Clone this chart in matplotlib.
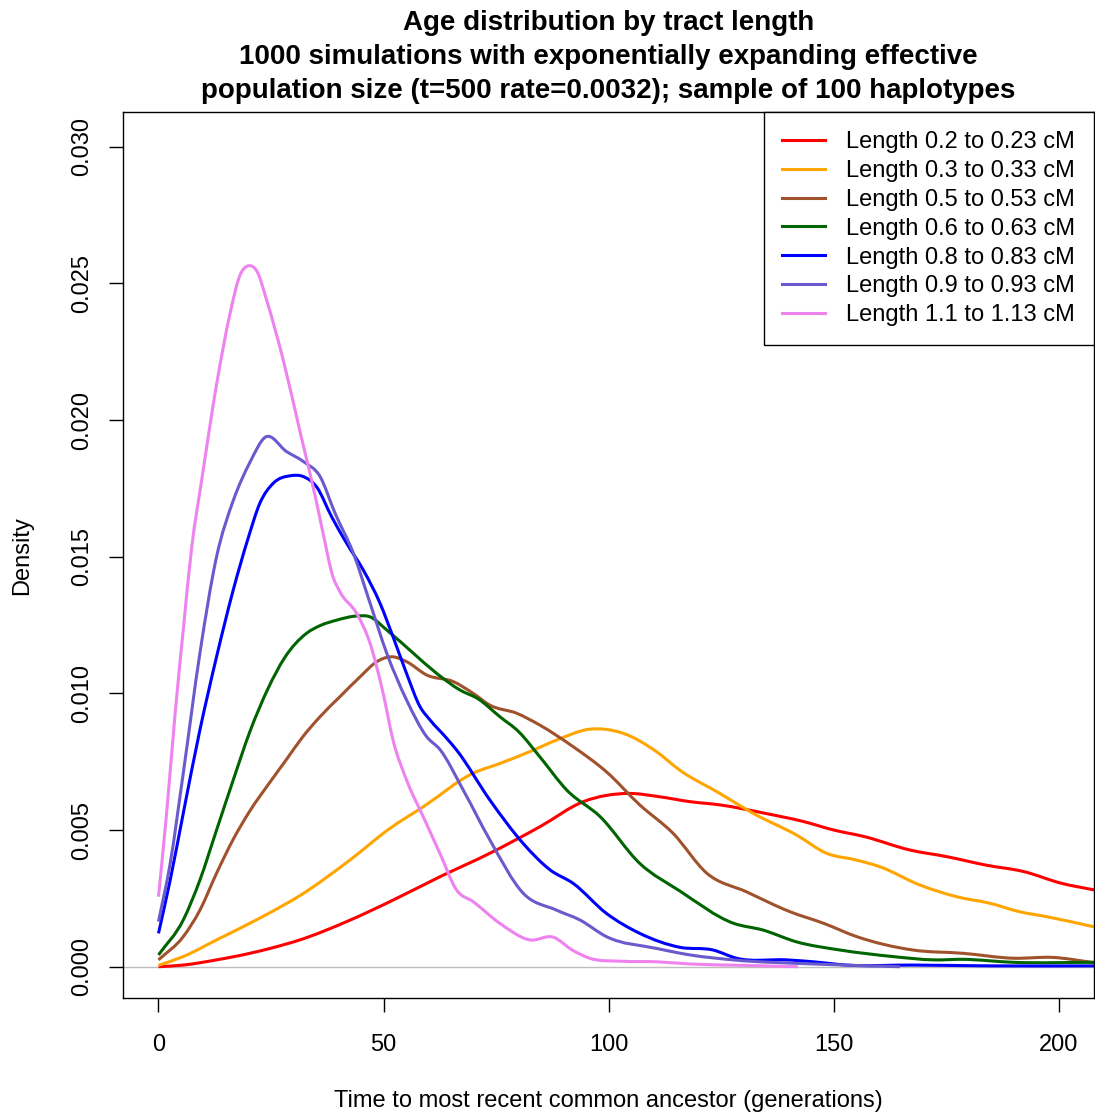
import matplotlib
matplotlib.use("Agg")
import matplotlib.pyplot as plt
from matplotlib.path import Path
from matplotlib.patches import PathPatch
from matplotlib.lines import Line2D

plt.rcParams['font.family'] = ['Liberation Sans', 'DejaVu Sans']

# ---- data ----
red_x = [0, 5.5, 12.9, 20.3, 24.8, 31.4, 42.5, 51.4, 62.5, 73.6, 84.7, 94.4, 104.5, 111.2, 118, 124.7,
         134.8, 143.3, 150, 156.8, 166.9, 175.3, 183.7, 192.2, 200.6, 207.8]
red_y = [0.0, 0.00006, 0.00025, 0.00049, 0.00067, 0.00098, 0.0017, 0.00238, 0.00329, 0.00415, 0.00512,
         0.00604, 0.00634, 0.00622, 0.00604, 0.00592, 0.00561, 0.00531, 0.005, 0.00476, 0.00427, 0.00402,
         0.00372, 0.00348, 0.00305, 0.00281]

orange_x = [0, 5.5, 12.9, 20.3, 24.8, 31.4, 42.5, 51.4, 58.8, 69.9, 75.9, 82.5, 88.4, 95.8, 103.2, 110.6,
            115.8, 124.7, 132.1, 141.7, 148.4, 155.1, 160.2, 169.1, 177.3, 184.7, 191.3, 197.3, 207.8]
orange_y = [0.00005, 0.00037, 0.00098, 0.00159, 0.00198, 0.0026, 0.0039, 0.00506, 0.00585, 0.00708,
            0.00744, 0.00787, 0.00829, 0.00869, 0.00854, 0.00787, 0.00719, 0.00634, 0.00561, 0.00482,
            0.00415, 0.0039, 0.00366, 0.00299, 0.00256, 0.00232, 0.00201, 0.00183, 0.00146]

brown_x = [0, 5.5, 9.2, 12.9, 16.6, 20.3, 24.8, 28.5, 32, 35.9, 40.3, 44.8, 48.5, 51.8, 55.1, 59.6, 65.5,
           69.9, 73.6, 79.6, 84.7, 92.1, 99.5, 106.9, 114.3, 121.8, 130.6, 140.3, 147.7, 155.1, 167.6,
           178.7, 189.9, 198.7, 207.8]
brown_y = [0.00025, 0.0011, 0.00207, 0.00342, 0.00466, 0.0057, 0.00676, 0.0076, 0.0084, 0.00915,
           0.00988, 0.01061, 0.01116, 0.01134, 0.01116, 0.01067, 0.01043, 0.01, 0.00957, 0.00927, 0.00884,
           0.00805, 0.00713, 0.00592, 0.00488, 0.00342, 0.00274, 0.00201, 0.00159, 0.0011, 0.00061,
           0.00049, 0.00031, 0.00034, 0.00015]

green_x = [0, 5.5, 9.2, 12.9, 16.6, 20.3, 24.4, 28, 32.9, 35.9, 39.6, 44, 47, 50.7, 56.6, 61.8, 67, 71,
           75.8, 80, 84.7, 90.7, 98.1, 106.9, 115.8, 127.7, 134.3, 141.7, 151.4, 163.2, 172.1, 178.7,
           189.9, 207.8]
green_y = [0.00043, 0.00171, 0.00317, 0.005, 0.00683, 0.0086, 0.0102, 0.0113, 0.0122, 0.01248,
           0.01268, 0.01283, 0.0128, 0.01232, 0.01147, 0.01073, 0.01012, 0.0098, 0.00915, 0.0086, 0.00768,
           0.00646, 0.00549, 0.00378, 0.00277, 0.00159, 0.00134, 0.00091, 0.00061, 0.00037, 0.00025,
           0.00027, 0.00016, 0.00016]

blue_x = [0, 2.6, 5.5, 9.2, 12.9, 16.6, 19.9, 22.5, 25.5, 29.2, 32.2, 35.1, 38.5, 41.8, 45.5, 49.2, 52.1,
          55.1, 58.1, 60.3, 64, 66.2, 73.6, 81, 87, 92.1, 99.5, 106.9, 115.8, 123.2, 128.4, 139.5, 145.4,
          152.8, 167.6, 185, 207.8]
blue_y = [0.00122, 0.00317, 0.00561, 0.00866, 0.01134, 0.01378, 0.01567, 0.01695, 0.01769, 0.01796,
          0.01793, 0.01756, 0.01645, 0.01549, 0.01451, 0.0133, 0.01207, 0.01073, 0.00951, 0.00903, 0.00836,
          0.00793, 0.0061, 0.00451, 0.00354, 0.00305, 0.00195, 0.00122, 0.00071, 0.00061, 0.00031, 0.00025,
          0.00018, 0.00006, 0.00006, 0.00003, 0.00003]

purple_x = [0, 2.6, 5.5, 9.2, 12.9, 16.6, 20.3, 23.7, 28.5, 32.2, 35.9, 39.2, 43.3, 47, 50.7, 55.1, 59.6,
            62.5, 67.7, 73.6, 81, 88.4, 93.6, 99.5, 110.6, 118.1, 127.6, 145.4, 164.7]
purple_y = [0.00165, 0.00378, 0.00708, 0.01147, 0.015, 0.01705, 0.01845, 0.01937, 0.01884, 0.01848,
            0.01793, 0.0166, 0.01512, 0.0133, 0.01147, 0.00976, 0.00841, 0.00795, 0.00646, 0.00464,
            0.00269, 0.00207, 0.00171, 0.0011, 0.00067, 0.00043, 0.00025, 0.0001, 0.0]

pink_x = [0, 1.8, 3.7, 5.5, 7.4, 9.6, 12.9, 15.9, 18.1, 19.9, 22, 24, 27.7, 31.4, 35.1, 37.4, 38.5, 40.3,
          44, 47, 49.9, 52.1, 55.1, 58.8, 62.5, 66.2, 69.9, 75.8, 82.5, 87.7, 92, 95.8, 103, 110.6, 118,
          130, 142]
pink_y = [0.00256, 0.00561, 0.00927, 0.01232, 0.01537, 0.01781, 0.0213, 0.0239, 0.0253, 0.02564,
          0.0254, 0.0244, 0.0222, 0.0196, 0.0170, 0.0152, 0.0144, 0.01372, 0.01293, 0.01183, 0.01,
          0.00829, 0.00683, 0.00549, 0.00415, 0.00281, 0.00238, 0.00159, 0.00098, 0.00108, 0.0006,
          0.00031, 0.0002, 0.00018, 0.0001, 0.00005, 0.0]

series = [
    ("Length 0.2 to 0.23 cM", "#FF0000", red_x, red_y),
    ("Length 0.3 to 0.33 cM", "#FFA500", orange_x, orange_y),
    ("Length 0.5 to 0.53 cM", "#A0522D", brown_x, brown_y),
    ("Length 0.6 to 0.63 cM", "#006400", green_x, green_y),
    ("Length 0.8 to 0.83 cM", "#0000FF", blue_x, blue_y),
    ("Length 0.9 to 0.93 cM", "#6A5ACD", purple_x, purple_y),
    ("Length 1.1 to 1.13 cM", "#EE82EE", pink_x, pink_y),
]

xticks = [0, 50, 100, 150, 200]
yticks = [0.000, 0.005, 0.010, 0.015, 0.020, 0.025, 0.030]
ytick_labels = ["0.000", "0.005", "0.010", "0.015", "0.020", "0.025", "0.030"]

title_lines = ["Age distribution by tract length",
               "1000 simulations with exponentially expanding effective",
               "population size (t=500 rate=0.0032); sample of 100 haplotypes"]


def smooth_path(xs, ys):
    """Cubic Bezier path through the read points (Hermite tangents), drawn in data coords."""
    n = len(xs)
    m = []
    for i in range(n):
        if i == 0:
            m.append((ys[1] - ys[0]) / (xs[1] - xs[0]))
        elif i == n - 1:
            m.append((ys[-1] - ys[-2]) / (xs[-1] - xs[-2]))
        else:
            h0 = xs[i] - xs[i - 1]
            h1 = xs[i + 1] - xs[i]
            d0 = (ys[i] - ys[i - 1]) / h0
            d1 = (ys[i + 1] - ys[i]) / h1
            m.append((d0 * h1 + d1 * h0) / (h0 + h1))
    verts = [(xs[0], ys[0])]
    codes = [Path.MOVETO]
    for i in range(n - 1):
        h = xs[i + 1] - xs[i]
        verts += [(xs[i] + h / 3, ys[i] + m[i] * h / 3),
                  (xs[i + 1] - h / 3, ys[i + 1] - m[i + 1] * h / 3),
                  (xs[i + 1], ys[i + 1])]
        codes += [Path.CURVE4] * 3
    return Path(verts, codes)


# ---- figure ----
W, H = 1095, 1119
fig = plt.figure(figsize=(W / 100, H / 100), dpi=100)
ax = fig.add_axes([122.7 / W, 1 - 998 / H, (1094 - 122.7) / W, (998 - 112.3) / H])

ax.axhline(0, color="#BEBEBE", lw=1.0, zorder=1)
handles = []
for label, color, xs, ys in series:
    patch = PathPatch(smooth_path(xs, ys), facecolor="none", edgecolor=color, lw=2.2,
                      transform=ax.transData, zorder=2, capstyle="butt", joinstyle="round")
    ax.add_patch(patch)
    handles.append(Line2D([], [], color=color, lw=2.2, label=label))

ax.set_xlim(-7.95, 207.8)
ax.set_ylim(-0.001145, 0.03126)
ax.set_xticks(xticks)
ax.set_xticklabels([str(t) for t in xticks])
ax.set_yticks(yticks)
ax.set_yticklabels(ytick_labels)
for s in ax.spines.values():
    s.set_linewidth(1.0)
    s.set_color("black")
ax.tick_params(axis="both", direction="out", length=10, width=1.0, labelsize=17, colors="black")
ax.tick_params(axis="x", pad=16)
ax.tick_params(axis="y", pad=11)
for lab in ax.get_yticklabels():
    lab.set_rotation(90)
    lab.set_va("center")

leg = ax.legend(handles=handles, loc="upper right", fontsize=17, frameon=True, fancybox=False,
                framealpha=1, edgecolor="black", borderaxespad=0, handlelength=1.8,
                handletextpad=0.89, labelspacing=0.29, borderpad=0.8)
leg.get_frame().set_linewidth(1.0)

cx = (122.7 + 1094) / 2 / W
for i, line in enumerate(title_lines):
    fig.text(cx, 1 - (30 + 34 * i) / H, line, ha="center", va="baseline",
             fontsize=20, fontweight="bold")

fig.text(22 / W, 1 - 556 / H, "Density", rotation=90, ha="center", va="center", fontsize=17)
fig.text(cx, 1 - 1101 / H, "Time to most recent common ancestor (generations)",
         ha="center", va="center", fontsize=17)

fig.savefig("out.png", dpi=100)
